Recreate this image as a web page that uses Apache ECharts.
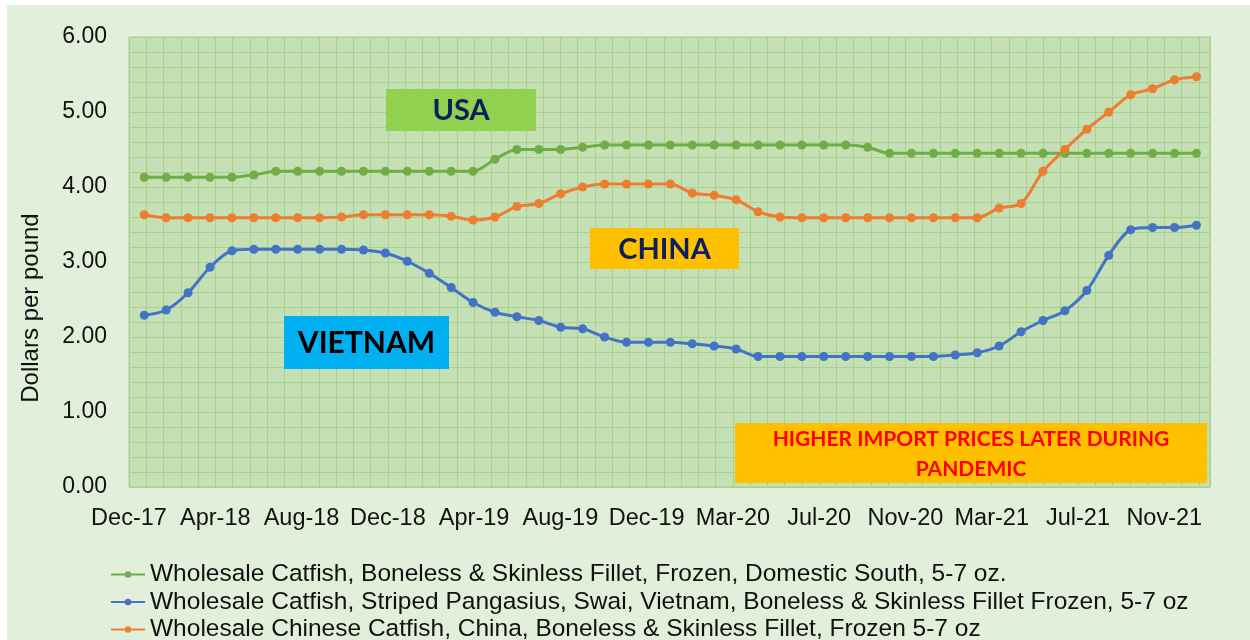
<!DOCTYPE html>
<html>
<head>
<meta charset="utf-8">
<title>Catfish wholesale prices</title>
<script src="https://cdn.jsdelivr.net/npm/echarts@6/dist/echarts.min.js"></script>
<style>
  body { margin: 0; background: #fff; }
  #bg { position: absolute; left: 7px; top: 5px; width: 1243px; height: 635px; background: #E2EFDA; }
  #chart { position: absolute; left: 0; top: 0; width: 1250px; height: 640px; }
</style>
</head>
<body>
<div id="bg"></div>
<div id="chart"></div>
<script>
// monthly categories, Dec-17 .. Dec-21
const months = [
  'Dec-17', 'Jan-18', 'Feb-18', 'Mar-18', 'Apr-18', 'May-18', 'Jun-18', 'Jul-18', 'Aug-18', 'Sep-18', 'Oct-18', 'Nov-18',
  'Dec-18', 'Jan-19', 'Feb-19', 'Mar-19', 'Apr-19', 'May-19', 'Jun-19', 'Jul-19', 'Aug-19', 'Sep-19', 'Oct-19', 'Nov-19',
  'Dec-19', 'Jan-20', 'Feb-20', 'Mar-20', 'Apr-20', 'May-20', 'Jun-20', 'Jul-20', 'Aug-20', 'Sep-20', 'Oct-20', 'Nov-20',
  'Dec-20', 'Jan-21', 'Feb-21', 'Mar-21', 'Apr-21', 'May-21', 'Jun-21', 'Jul-21', 'Aug-21', 'Sep-21', 'Oct-21', 'Nov-21',
  'Dec-21'
]
// tick labels shown under the plot
const tickLabels = ['Dec-17', 'Apr-18', 'Aug-18', 'Dec-18', 'Apr-19', 'Aug-19', 'Dec-19', 'Mar-20', 'Jul-20', 'Nov-20', 'Mar-21', 'Jul-21', 'Nov-21']

const usaName = 'Wholesale Catfish, Boneless & Skinless Fillet, Frozen, Domestic South, 5-7 oz.'
const vietnamName = 'Wholesale Catfish, Striped Pangasius, Swai, Vietnam, Boneless & Skinless Fillet Frozen, 5-7 oz'
const chinaName = 'Wholesale Chinese Catfish, China, Boneless & Skinless Fillet, Frozen 5-7 oz'

const usa = [
  4.13, 4.13, 4.13, 4.13, 4.13, 4.16, 4.21, 4.21, 4.21, 4.21, 4.21, 4.21,
  4.21, 4.21, 4.21, 4.21, 4.37, 4.50, 4.50, 4.50, 4.53, 4.56, 4.56, 4.56,
  4.56, 4.56, 4.56, 4.56, 4.56, 4.56, 4.56, 4.56, 4.56, 4.53, 4.45, 4.45,
  4.45, 4.45, 4.45, 4.45, 4.45, 4.45, 4.45, 4.45, 4.45, 4.45, 4.45, 4.45,
  4.45
]
const vietnam = [
  2.29, 2.36, 2.59, 2.93, 3.15, 3.17, 3.17, 3.17, 3.17, 3.17, 3.16, 3.12,
  3.01, 2.85, 2.66, 2.46, 2.33, 2.27, 2.22, 2.13, 2.11, 2.00, 1.93, 1.93,
  1.93, 1.91, 1.88, 1.84, 1.74, 1.74, 1.74, 1.74, 1.74, 1.74, 1.74, 1.74,
  1.74, 1.76, 1.79, 1.88, 2.07, 2.22, 2.35, 2.62, 3.09, 3.43, 3.46, 3.46,
  3.49
]
const china = [
  3.63, 3.59, 3.59, 3.59, 3.59, 3.59, 3.59, 3.59, 3.59, 3.60, 3.63, 3.63,
  3.63, 3.63, 3.61, 3.56, 3.60, 3.74, 3.78, 3.91, 4.00, 4.04, 4.04, 4.04,
  4.04, 3.92, 3.89, 3.83, 3.67, 3.60, 3.59, 3.59, 3.59, 3.59, 3.59, 3.59,
  3.59, 3.59, 3.59, 3.72, 3.78, 4.21, 4.50, 4.77, 5.00, 5.23, 5.31, 5.43,
  5.47
]

const gridColor = '#A9D18E'
const font = 'Liberation Sans, Arial, sans-serif'

// coloured label box drawn on top of the plot
function box (x, y, w, h, fill, text, color, size) {
  return [
    { type: 'rect', z: 100, shape: { x, y, width: w, height: h }, style: { fill } },
    {
      type: 'text',
      z: 101,
      x: x + w / 2,
      y: y + h / 2 + 1,
      style: {
        text,
        fill: color,
        font: 'bold ' + size + 'px Lato, sans-serif',
        align: 'center',
        verticalAlign: 'middle',
        lineHeight: 30
      }
    }
  ]
}

function makeLine (name, data, color) {
  return {
    name,
    type: 'line',
    xAxisIndex: 1,
    yAxisIndex: 1,
    data,
    smooth: 0.3,
    symbol: 'circle',
    symbolSize: 9,
    lineStyle: { width: 3, color },
    itemStyle: { color }
  }
}

// one legend row per series, stacked under the chart
function legendRow (name, top) {
  return {
    orient: 'vertical',
    left: 110,
    top,
    padding: 0,
    itemWidth: 34,
    itemHeight: 8,
    textStyle: { fontSize: 24.5, fontFamily: font, color: '#111', lineHeight: 22 },
    data: [name]
  }
}

const chart = echarts.init(document.getElementById('chart'))
const option = {
  backgroundColor: 'transparent',
  animation: false,
  grid: [
    { left: 129, top: 37, width: 1081, height: 450, show: true, backgroundColor: '#C5E0B4', borderColor: gridColor, borderWidth: 1 },
    { left: 133.3, top: 37, width: 1074.1, height: 450, show: false }
  ],
  xAxis: [
    {
      type: 'value',
      gridIndex: 0,
      min: 0,
      max: 12.53,
      interval: 0.2,
      axisLine: { show: false },
      axisTick: { show: false },
      splitLine: { show: true, lineStyle: { color: gridColor, width: 1 } },
      axisLabel: {
        margin: 20,
        fontSize: 23.5,
        fontFamily: font,
        color: '#111',
        showMaxLabel: false,
        formatter: v => {
          const i = Math.round(v)
          return Math.abs(v - i) < 1e-6 && tickLabels[i] ? tickLabels[i] : ''
        }
      }
    },
    {
      type: 'category',
      gridIndex: 1,
      data: months,
      boundaryGap: true,
      show: false
    }
  ],
  yAxis: [
    {
      type: 'value',
      gridIndex: 0,
      min: 0,
      max: 6,
      interval: 1,
      axisLine: { show: false },
      axisTick: { show: false },
      axisLabel: {
        margin: 22,
        fontSize: 23,
        fontFamily: font,
        color: '#111',
        formatter: v => v.toFixed(2)
      },
      splitLine: { show: true, lineStyle: { color: gridColor, width: 1 } },
      minorTick: { show: false, splitNumber: 5 },
      minorSplitLine: { show: true, lineStyle: { color: gridColor, width: 1 } }
    },
    {
      type: 'value',
      gridIndex: 1,
      min: 0,
      max: 6,
      show: false
    }
  ],
  legend: [
    legendRow(usaName, 562),
    legendRow(vietnamName, 589.5),
    legendRow(chinaName, 617)
  ],
  graphic: [
    {
      type: 'text',
      x: 31,
      y: 308,
      rotation: Math.PI / 2,
      style: {
        text: 'Dollars per pound',
        font: '24px ' + font,
        fill: '#111',
        align: 'center',
        verticalAlign: 'middle'
      }
    },
    ...box(386, 89, 150, 42, '#92D050', 'USA', '#0B1F5C', 29),
    ...box(590, 228, 149, 41, '#FFC000', 'CHINA', '#0B1F5C', 29),
    ...box(284, 316, 165, 53, '#00B0F0', 'VIETNAM', '#000', 30),
    ...box(735, 423, 472, 60, '#FFC000', 'HIGHER IMPORT PRICES LATER DURING\nPANDEMIC', '#FF0000', 21)
  ],
  series: [
    makeLine(usaName, usa, '#70AD47'),
    makeLine(vietnamName, vietnam, '#4472C4'),
    makeLine(chinaName, china, '#ED7D31')
  ]
}
chart.setOption(option)
</script>
</body>
</html>
